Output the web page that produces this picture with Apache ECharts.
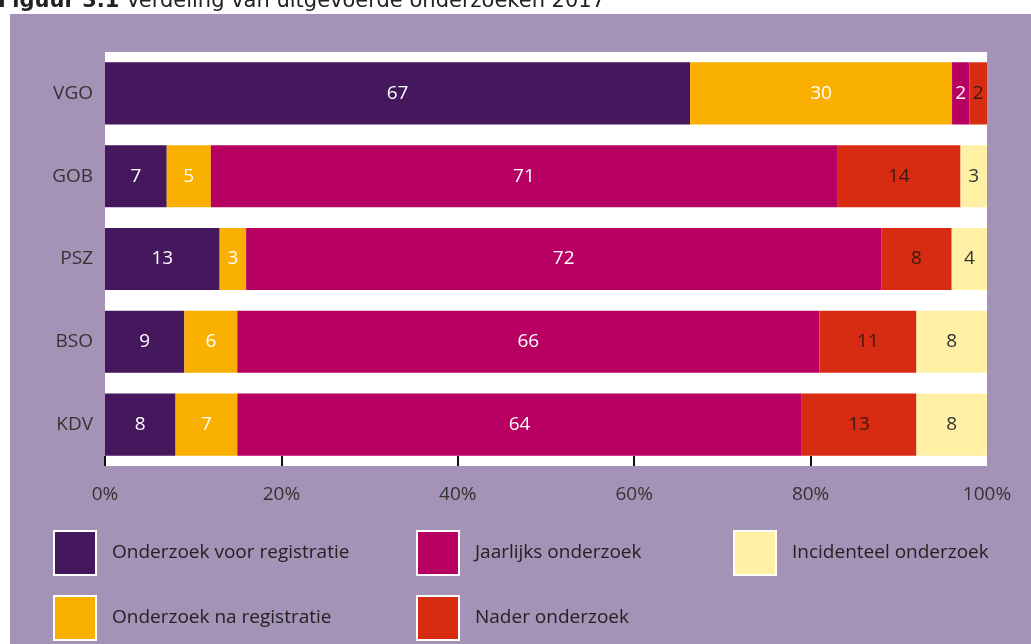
<!DOCTYPE html>
<html>
<head>
<meta charset="utf-8">
<script src="https://cdn.jsdelivr.net/npm/echarts@6/dist/echarts.min.js"></script>
<style>
    html, body { margin: 0; padding: 0; background: #fff; }
    #main { width: 1031px; height: 644px; }
</style>
</head>
<body>
<div id="main"></div>
<script>
// categories and raw percentages per series (as printed in the bars)
const categories = ['VGO', 'GOB', 'PSZ', 'BSO', 'KDV']
const voorRegistratie = [67, 7, 13, 9, 8]
const naRegistratie = [30, 5, 3, 6, 7]
const jaarlijks = [2, 71, 72, 66, 64]
const nader = [2, 14, 8, 11, 13]
const incidenteel = [null, 3, 4, 8, 8]
const xTicks = [0, 20, 40, 60, 80]

const seriesDefs = [
    { name: 'Onderzoek voor registratie', data: voorRegistratie, color: '#45175d', text: '#fff' },
    { name: 'Onderzoek na registratie', data: naRegistratie, color: '#f9b000', text: '#fff' },
    { name: 'Jaarlijks onderzoek', data: jaarlijks, color: '#b80062', text: '#fff' },
    { name: 'Nader onderzoek', data: nader, color: '#d72c12', text: '#3a1a10' },
    { name: 'Incidenteel onderzoek', data: incidenteel, color: '#fff0a5', text: '#333' },
]

// legend spots: one legend per item, two rows
const legendSpots = [
    { left: 48, top: 525 },
    { left: 48, top: 590 },
    { left: 411, top: 525 },
    { left: 411, top: 590 },
    { left: 728, top: 525 },
]

// each bar is stretched to 100% of its own total
const totals = categories.map((c, i) => seriesDefs.reduce((s, d) => s + (d.data[i] || 0), 0))

const chart = echarts.init(document.getElementById('main'))
const font = '"Open Sans", "Noto Sans", sans-serif'
const titleFont = '"DejaVu Sans", sans-serif'

chart.setOption({
    animation: false,
    backgroundColor: '#fff',
    graphic: [
        { type: 'rect', z: -10, shape: { x: 10, y: 14, width: 1030, height: 640 }, style: { fill: '#a493b6' } },
        {
            type: 'text',
            z: 10,
            style: {
                x: -2,
                y: 12,
                verticalAlign: 'bottom',
                text: '{b|Figuur 3.1} Verdeling van uitgevoerde onderzoeken 2017',
                fontFamily: titleFont,
                fontSize: 21,
                fill: '#222',
                rich: { b: { fontFamily: titleFont, fontSize: 21, fontWeight: 'bold', fill: '#222' } },
            },
        },
    ],
    legend: seriesDefs.map((d, i) => ({
        left: legendSpots[i].left,
        top: legendSpots[i].top,
        data: [d.name],
        itemWidth: 42,
        itemHeight: 44,
        icon: 'rect',
        itemStyle: { borderColor: '#fff', borderWidth: 2 },
        textStyle: { fontFamily: font, fontSize: 19, color: '#222', padding: [0, 0, 0, 11] },
    })),
    grid: {
        left: 105,
        right: 44,
        top: 52,
        bottom: 178,
        show: true,
        backgroundColor: '#fff',
        borderWidth: 0,
    },
    xAxis: {
        type: 'value',
        min: 0,
        max: 100,
        interval: 20,
        axisLine: { show: false },
        splitLine: { show: false },
        axisTick: {
            show: true,
            inside: true,
            length: 10,
            customValues: xTicks,
            lineStyle: { color: '#111', width: 2 },
        },
        axisLabel: {
            formatter: '{value}%',
            margin: 19,
            fontFamily: font,
            fontSize: 19,
            color: '#333',
        },
    },
    yAxis: {
        type: 'category',
        inverse: true,
        data: categories,
        axisLine: { show: false },
        axisTick: { show: false },
        axisLabel: { margin: 12, fontFamily: font, fontSize: 19, color: '#333' },
    },
    series: seriesDefs.map((d) => ({
        name: d.name,
        type: 'bar',
        stack: 'total',
        barCategoryGap: '25%',
        itemStyle: { color: d.color },
        label: {
            show: true,
            position: 'inside',
            fontFamily: font,
            fontSize: 19,
            color: d.text,
            formatter: (p) => d.data[p.dataIndex],
        },
        data: d.data.map((v, i) => (v == null ? null : (v / totals[i]) * 100)),
    })),
})
</script>
</body>
</html>
